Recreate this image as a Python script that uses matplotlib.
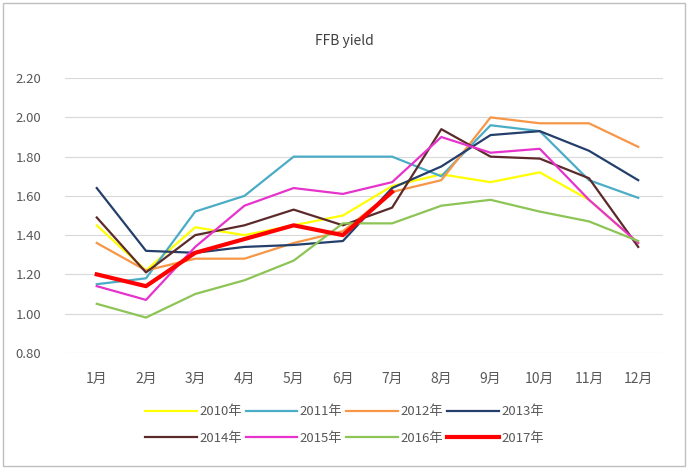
import matplotlib
matplotlib.use("Agg")
import matplotlib.pyplot as plt
from matplotlib.patches import Rectangle

plt.rcParams['font.family'] = ['Noto Sans CJK SC', 'DejaVu Sans']

months = ['1月', '2月', '3月', '4月', '5月', '6月', '7月', '8月', '9月', '10月', '11月', '12月']

y2010 = [1.45, 1.22, 1.44, 1.40, 1.45, 1.50, 1.65, 1.71, 1.67, 1.72, 1.58, 1.36]
y2011 = [1.15, 1.18, 1.52, 1.60, 1.80, 1.80, 1.80, 1.70, 1.96, 1.93, 1.68, 1.59]
y2012 = [1.36, 1.22, 1.28, 1.28, 1.36, 1.42, 1.62, 1.68, 2.00, 1.97, 1.97, 1.85]
y2013 = [1.64, 1.32, 1.31, 1.34, 1.35, 1.37, 1.64, 1.75, 1.91, 1.93, 1.83, 1.68]
y2014 = [1.49, 1.21, 1.40, 1.45, 1.53, 1.45, 1.54, 1.94, 1.80, 1.79, 1.69, 1.34]
y2015 = [1.14, 1.07, 1.34, 1.55, 1.64, 1.61, 1.67, 1.90, 1.82, 1.84, 1.58, 1.36]
y2016 = [1.05, 0.98, 1.10, 1.17, 1.27, 1.46, 1.46, 1.55, 1.58, 1.52, 1.47, 1.37]
y2017 = [1.20, 1.14, 1.31, 1.38, 1.45, 1.40, 1.62]

series = [
    ('2010年', y2010, '#FFFF00', 1.6),
    ('2011年', y2011, '#4BACC6', 1.6),
    ('2012年', y2012, '#F79646', 1.6),
    ('2013年', y2013, '#243F6B', 1.6),
    ('2014年', y2014, '#5C2A2A', 1.6),
    ('2015年', y2015, '#E633CC', 1.6),
    ('2016年', y2016, '#8CC455', 1.6),
    ('2017年', y2017, '#FF0000', 3.0),
]

fig = plt.figure(figsize=(6.89, 4.68), dpi=100)
ax = fig.add_axes([0.094, 0.246, 0.868, 0.587])

lines = []
for name, vals, col, lw in series:
    ln, = ax.plot(range(len(vals)), vals, color=col, lw=lw, label=name)
    lines.append(ln)

ax.set_ylim(0.8, 2.2)
ax.set_yticks([0.8, 1.0, 1.2, 1.4, 1.6, 1.8, 2.0, 2.2])
ax.set_yticklabels(['%.2f' % v for v in ax.get_yticks()])
ax.set_xlim(-0.65, 11.5)
ax.set_xticks(range(12))
ax.set_xticklabels(months)
ax.tick_params(length=0, colors='#595959')
ax.tick_params(axis='x', labelsize=10, pad=14)
ax.tick_params(axis='y', labelsize=9.5, pad=17)
ax.grid(axis='y', color='#D9D9D9', lw=0.8)
ax.set_axisbelow(True)
for s in ax.spines.values():
    s.set_visible(False)

fig.text(0.5, 0.913, 'FFB yield', ha='center', va='center', fontsize=10, color='#404040')

# legend rows: 2010-2013 on top, 2014-2017 below
order = [0, 4, 1, 5, 2, 6, 3, 7]
fig.legend([lines[i] for i in order], [series[i][0] for i in order],
           loc='center', bbox_to_anchor=(0.5, 0.092), ncol=4, frameon=False,
           fontsize=9.5, handlelength=3.9, columnspacing=0.3, handletextpad=0.2,
           labelspacing=1.0, labelcolor='#595959')

fig.patches.append(Rectangle((0.004, 0.004), 0.99, 0.99, transform=fig.transFigure,
                             fill=False, edgecolor='#BFBFBF', lw=1))

fig.savefig('out.png', dpi=100)
